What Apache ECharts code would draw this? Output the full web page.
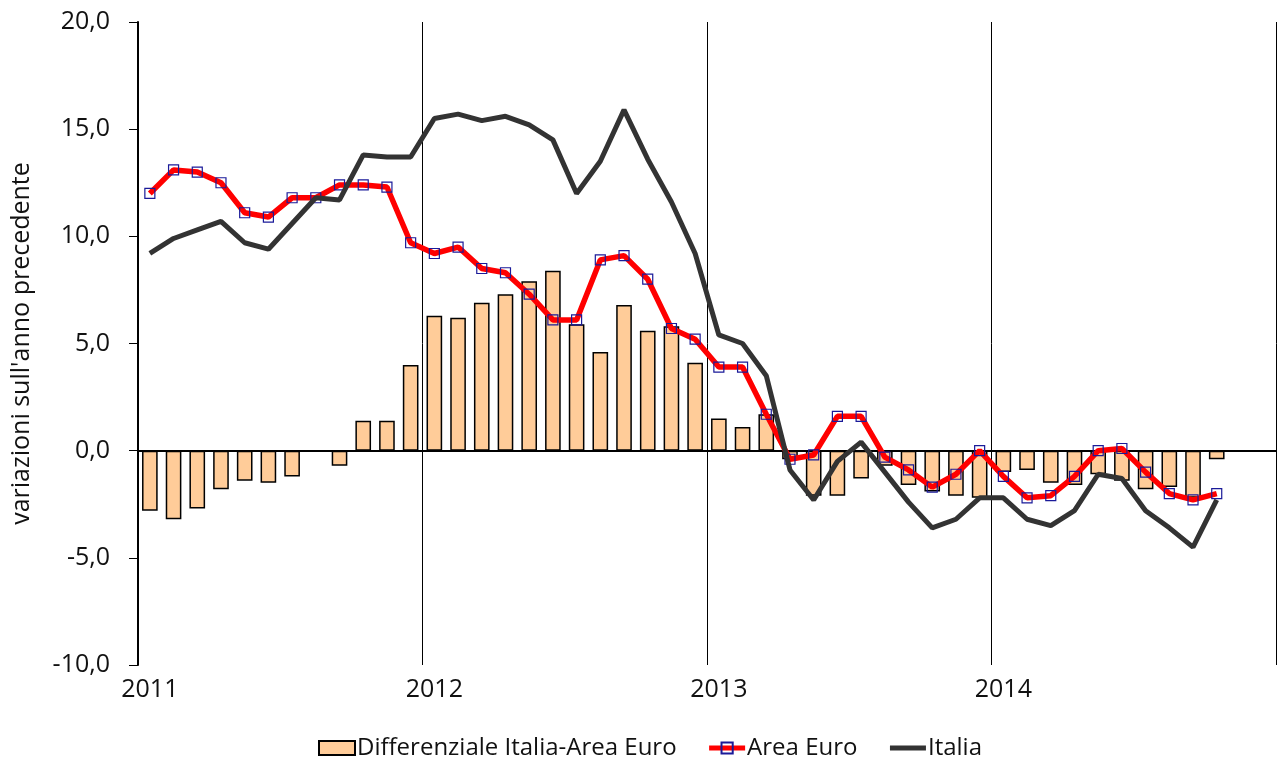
<!DOCTYPE html>
<html>
<head>
<meta charset="utf-8">
<script src="https://cdn.jsdelivr.net/npm/echarts@6/dist/echarts.min.js"></script>
<style>
html, body { margin: 0; padding: 0; background: #fff; }
#main { width: 1279px; height: 771px; }
</style>
</head>
<body>
<div id="main"></div>
<script>
var years = ['2011', '2012', '2013', '2014'];
var monthsPerYear = 12;

// valori, gen 2011 - ott 2014
var differenziale = [-2.8, -3.2, -2.7, -1.8, -1.4, -1.5, -1.2, 0.0, -0.7, 1.4, 1.4, 4.0,
    6.3, 6.2, 6.9, 7.3, 7.9, 8.4, 5.9, 4.6, 6.8, 5.6, 5.8, 4.1,
    1.5, 1.1, 1.7, -0.4, -2.1, -2.1, -1.3, -0.7, -1.6, -1.9, -2.1, -2.2,
    -1.0, -0.9, -1.5, -1.6, -1.1, -1.4, -1.8, -1.7, -2.2, -0.4];
var areaEuro = [12.0, 13.1, 13.0, 12.5, 11.1, 10.9, 11.8, 11.8, 12.4, 12.4, 12.3, 9.7,
    9.2, 9.5, 8.5, 8.3, 7.3, 6.1, 6.1, 8.9, 9.1, 8.0, 5.7, 5.2,
    3.9, 3.9, 1.7, -0.4, -0.2, 1.6, 1.6, -0.3, -0.9, -1.7, -1.1, 0.0,
    -1.2, -2.2, -2.1, -1.2, 0.0, 0.1, -1.0, -2.0, -2.3, -2.0];
var italia = [9.2, 9.9, 10.3, 10.7, 9.7, 9.4, 10.6, 11.8, 11.7, 13.8, 13.7, 13.7,
    15.5, 15.7, 15.4, 15.6, 15.2, 14.5, 12.0, 13.5, 15.9, 13.6, 11.6, 9.2,
    5.4, 5.0, 3.5, -0.9, -2.3, -0.5, 0.4, -1.0, -2.4, -3.6, -3.2, -2.2,
    -2.2, -3.2, -3.5, -2.8, -1.1, -1.3, -2.8, -3.6, -4.5, -2.3];

var months = [];
years.forEach(function (y) {
    for (var m = 1; m <= monthsPerYear; m++) {
        months.push(y + '-' + (m < 10 ? '0' + m : m));
    }
});

var font = 'Open Sans';

var myChart = echarts.init(document.getElementById('main'));
var option = {
    animation: false,
    textStyle: { fontFamily: font },
    grid: { left: 138, right: 3, top: 22, bottom: 106 },
    legend: {
        bottom: 6,
        left: 313,
        itemGap: 30,
        itemWidth: 36,
        itemHeight: 14,
        textStyle: { fontFamily: font, fontSize: 24, color: '#111', padding: [0, 0, 0, -3] },
        data: [
            { name: 'Differenziale Italia-Area Euro', icon: 'rect' },
            { name: 'Area Euro', lineStyle: { width: 5 } },
            { name: 'Italia', itemStyle: { opacity: 0 }, lineStyle: { width: 5 } }
        ]
    },
    xAxis: [
        {
            type: 'category',
            data: months,
            position: 'bottom',
            axisLine: { show: false, onZero: false },
            axisTick: { show: false },
            axisLabel: {
                interval: 11,
                margin: 12,
                fontSize: 25,
                color: '#111',
                formatter: function (v) { return v.slice(0, 4); }
            },
            splitLine: { show: true, interval: 11, lineStyle: { color: '#000', width: 1 } }
        },
        {
            type: 'category',
            data: months,
            axisLine: { show: true, onZero: true, lineStyle: { color: '#000', width: 2 } },
            axisTick: { show: false },
            axisLabel: { show: false },
            splitLine: { show: false }
        }
    ],
    yAxis: {
        type: 'value',
        min: -10,
        max: 20,
        interval: 5,
        name: "variazioni sull'anno precedente",
        nameLocation: 'middle',
        nameGap: 116,
        nameTextStyle: { fontSize: 25, color: '#111', verticalAlign: 'middle' },
        axisLine: { show: true, lineStyle: { color: '#000', width: 2 } },
        axisTick: { show: true, length: 9, lineStyle: { color: '#000', width: 1 } },
        axisLabel: {
            fontSize: 25,
            color: '#111',
            margin: 28,
            formatter: function (v) { return v.toFixed(1).replace('.', ','); }
        },
        splitLine: { show: false }
    },
    series: [
        {
            name: 'Differenziale Italia-Area Euro',
            type: 'bar',
            barWidth: '66%',
            data: differenziale,
            itemStyle: { color: '#FFCC99', borderColor: '#000', borderWidth: 1.5 }
        },
        {
            name: 'Area Euro',
            type: 'line',
            data: areaEuro,
            symbol: 'rect',
            symbolSize: 10,
            showAllSymbol: true,
            lineStyle: { color: '#FF0000', width: 5.5 },
            itemStyle: { color: 'rgba(255,255,255,0)', borderColor: '#1a1a99', borderWidth: 1.2 },
            z: 3
        },
        {
            name: 'Italia',
            type: 'line',
            data: italia,
            symbol: 'none',
            lineStyle: { color: '#333333', width: 5 },
            itemStyle: { color: '#333333' },
            z: 4
        }
    ]
};
myChart.setOption(option);
</script>
</body>
</html>
